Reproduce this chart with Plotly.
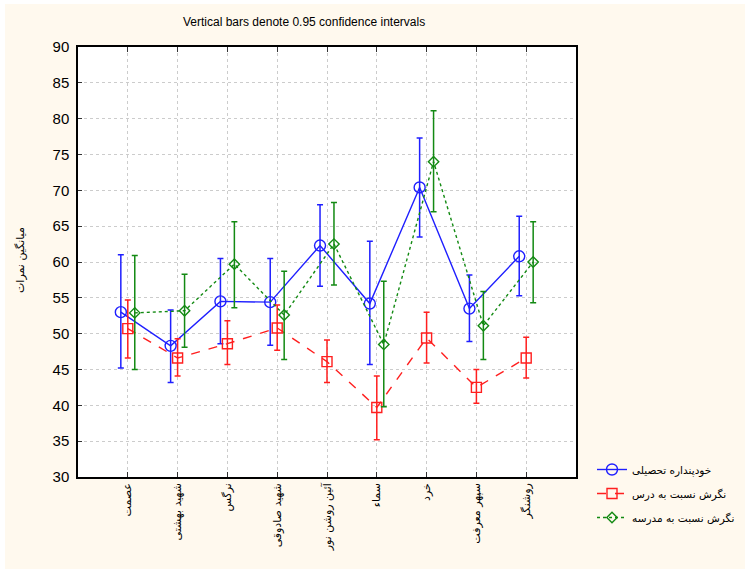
import plotly.graph_objects as go
import numpy as np

categories = ["عصمت", "شهید بهشتی", "نرگس", "شهید صادوقی", "آئین روشن نور",
              "سماء", "خرد", "سپهر معرفت", "روشنگر"]
series_names = ["خودپنداره تحصیلی", "نگرش نسبت به درس", "نگرش نسبت به مدرسه"]

self_concept_mean = [53.0, 48.3, 54.5, 54.4, 62.3, 54.2, 70.4, 53.5, 60.8]
self_concept_upper = [61.0, 53.3, 60.5, 60.5, 68.0, 62.9, 77.3, 58.2, 66.4]
self_concept_lower = [45.2, 43.2, 48.6, 48.4, 56.6, 45.7, 63.5, 48.9, 55.3]

lesson_mean = [50.7, 46.6, 48.6, 50.8, 46.1, 39.7, 49.4, 42.5, 46.6]
lesson_upper = [54.7, 49.3, 51.8, 54.0, 49.1, 44.1, 53.0, 45.0, 49.5]
lesson_lower = [46.6, 44.1, 45.7, 47.7, 43.2, 35.2, 45.9, 40.3, 43.8]

school_mean = [52.9, 53.2, 59.7, 52.6, 62.5, 48.5, 74.0, 51.1, 60.0]
school_upper = [60.9, 58.3, 65.6, 58.7, 68.3, 57.3, 81.1, 55.9, 65.6]
school_lower = [45.0, 48.1, 53.6, 46.4, 56.8, 39.8, 67.0, 46.4, 54.3]

y_ticks = [30, 35, 40, 45, 50, 55, 60, 65, 70, 75, 80, 85, 90]

idx = np.arange(len(categories))
series = [
    (series_names[0], self_concept_mean, self_concept_upper, self_concept_lower,
     "#1f1fff", "solid", "circle-open", 11, -0.14),
    (series_names[1], lesson_mean, lesson_upper, lesson_lower,
     "#ff1f1f", "dash", "square-open", 10, 0.0),
    (series_names[2], school_mean, school_upper, school_lower,
     "#138a13", "dot", "diamond-open", 8, 0.14),
]

fig = go.Figure()
for i, (name, m, up, lo, col, dash, sym, msize, off) in enumerate(series):
    m = np.array(m); up = np.array(up); lo = np.array(lo)
    fig.add_trace(go.Scatter(
        x=idx + off, y=m, name=name, mode="lines+markers",
        line=dict(color=col, width=1.4, dash=dash),
        marker=dict(symbol=sym, size=msize, color=col,
                    line=dict(color=col, width=1.4)),
        error_y=dict(type="data", symmetric=False, array=up - m,
                     arrayminus=m - lo, color=col, thickness=1.5, width=3),
        legendgroup=f"g{i}",
    ))

L, R, T, B = 78, 169, 47, 92
W, H = 745, 569
pw, ph = W - L - R, H - T - B

def px_x(p):
    return (p - L) / pw

def px_y(p):
    return (H - B - p) / ph

fig.update_layout(
    width=W, height=H,
    margin=dict(l=L, r=R, t=T, b=B, pad=0, autoexpand=False),
    paper_bgcolor="#fff9ee",
    plot_bgcolor="white",
    font=dict(family="Liberation Sans, Arial, sans-serif", color="black"),
    showlegend=True,
    legend=dict(x=px_x(592), y=px_y(455), xanchor="left", yanchor="top",
                bgcolor="rgba(0,0,0,0)", tracegroupgap=5,
                font=dict(family="DejaVu Sans", size=10.5)),
    xaxis=dict(range=[-1, 9], tickvals=list(idx), ticktext=categories,
               tickangle=-90, showgrid=True, gridcolor="#cccccc",
               griddash="dot", gridwidth=1, zeroline=False,
               showline=True, linecolor="black", linewidth=1.5,
               mirror="ticks", ticks="inside", ticklen=5, tickcolor="#333",
               automargin=False,
               tickfont=dict(family="DejaVu Sans", size=11)),
    yaxis=dict(range=[30, 90], tickvals=y_ticks, showgrid=True,
               gridcolor="#cccccc", griddash="dot", gridwidth=1,
               zeroline=False, showline=True, linecolor="black",
               linewidth=1.5, mirror=True, ticks="inside", ticklen=4,
               tickcolor="#333", ticklabelstandoff=4, automargin=False,
               tickfont=dict(size=15)),
    shapes=[
        dict(type="rect", xref="paper", yref="paper", layer="below",
             x0=px_x(0), x1=px_x(5), y0=px_y(H), y1=px_y(0),
             fillcolor="white", line=dict(width=0)),
        dict(type="rect", xref="paper", yref="paper", layer="below",
             x0=px_x(0), x1=px_x(W), y0=px_y(4), y1=px_y(0),
             fillcolor="white", line=dict(width=0)),
    ],
    annotations=[
        dict(text="Vertical bars denote 0.95 confidence intervals",
             xref="paper", yref="paper", x=px_x(304), y=px_y(22),
             xanchor="center", yanchor="middle", showarrow=False,
             font=dict(size=12)),
        dict(text="میانگین نمرات", xref="paper", yref="paper",
             x=px_x(20), y=px_y(260), xanchor="center", yanchor="middle",
             textangle=-90, showarrow=False,
             font=dict(family="DejaVu Sans", size=11)),
    ],
)

fig.write_html("out.html", config={"displayModeBar": False},
               post_script="document.body.style.margin='0';document.body.style.overflow='hidden';")
